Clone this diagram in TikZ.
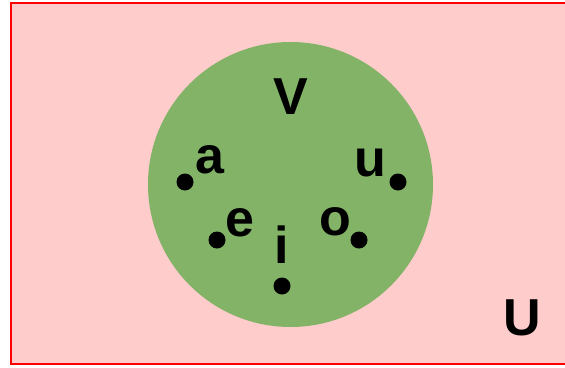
\documentclass[tikz,border=0pt]{standalone}
\usepackage{fontspec}
\setmainfont{Liberation Sans}
\usepackage{xcolor}
\usetikzlibrary{positioning}
\definecolor{setpink}{HTML}{FFCCCC}
\definecolor{setred}{HTML}{FF0000}
\definecolor{setgreen}{HTML}{82B366}
\tikzset{
  elem dot/.style={circle, fill=black, inner sep=0pt, minimum size=17pt},
  elem label/.style={inner sep=0pt, font=\fontsize{52}{60}\selectfont\bfseries},
}

\begin{document}
\begin{tikzpicture}[x=1pt,y=-1pt]
  \useasboundingbox (0,0) rectangle (565,367);
  \clip (0,0) rectangle (565,367);

  % universe and the set of vowels
  \draw[setred, fill=setpink, line width=2pt] (11,3) rectangle (580,364);
  \node[circle, fill=setgreen, minimum size=285pt, inner sep=0pt] (vset) at (290.5,184.5) {};

  \node[elem label] (vname) at (291,97) {V};
  \node[elem label] (uname) at (522,318) {U};

  % elements
  \node[elem dot] (da) at (185,182) {};
  \node[elem dot] (du) at (398,182) {};
  \node[elem dot] (de) at (217,240) {};
  \node[elem dot] (do) at (359,240) {};
  \node[elem dot] (di) at (282,286) {};

  \node[elem label] (la) at (210,160) {a};
  \node[elem label] (lu) at (370,163) {u};
  \node[elem label] (le) at (240,223) {e};
  \node[elem label] (lo) at (335,222) {o};
  \node[elem label] (li) at (282,245) {i};
\end{tikzpicture}
\end{document}
